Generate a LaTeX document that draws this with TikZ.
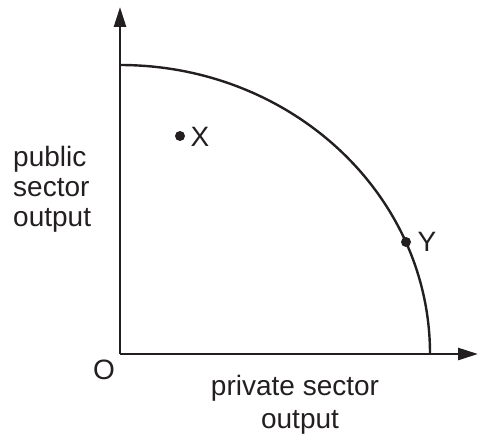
\documentclass[tikz,border=0pt]{standalone}
\usepackage{fontspec}
\setmainfont{Liberation Sans}
\usetikzlibrary{arrows.meta}
\definecolor{ink}{HTML}{231F20}
\begin{document}
\begin{tikzpicture}[x=1pt,y=-1pt,
  axis/.style={draw=ink,line width=2.6pt,-{Triangle[length=20pt,width=12pt]}},
  curve/.style={draw=ink,line width=2.4pt},
  pt/.style={circle,fill=ink,inner sep=0pt,minimum size=10pt},
  lbl/.style={text=ink,font=\fontsize{28}{30}\selectfont,inner sep=0pt}]
\useasboundingbox (0,0) rectangle (478,436);
\coordinate (O) at (120,354);
\coordinate (ytip) at (120,7);
\coordinate (xtip) at (478,354);
\draw[axis] (O) -- (ytip);
\draw[axis] (O) -- (xtip);
\draw[curve] (120,65) arc[start angle=90,end angle=0,x radius=310,y radius=-289];
\node[pt] (px) at (180,136) {};
\node[pt] (py) at (406,242) {};
\node[lbl] (tx) at (200,137) {X};
\node[lbl] (ty) at (427,242) {Y};
\node[lbl] (to) at (104,370) {O};
\node[lbl,anchor=base west] (l1) at (13,166) {public};
\node[lbl,anchor=base west] (l2) at (13,196) {sector};
\node[lbl,anchor=base west] (l3) at (13,226) {output};
\node[lbl,anchor=base] (b1) at (295,395) {private sector};
\node[lbl,anchor=base] (b2) at (300,428) {output};
\end{tikzpicture}
\end{document}
